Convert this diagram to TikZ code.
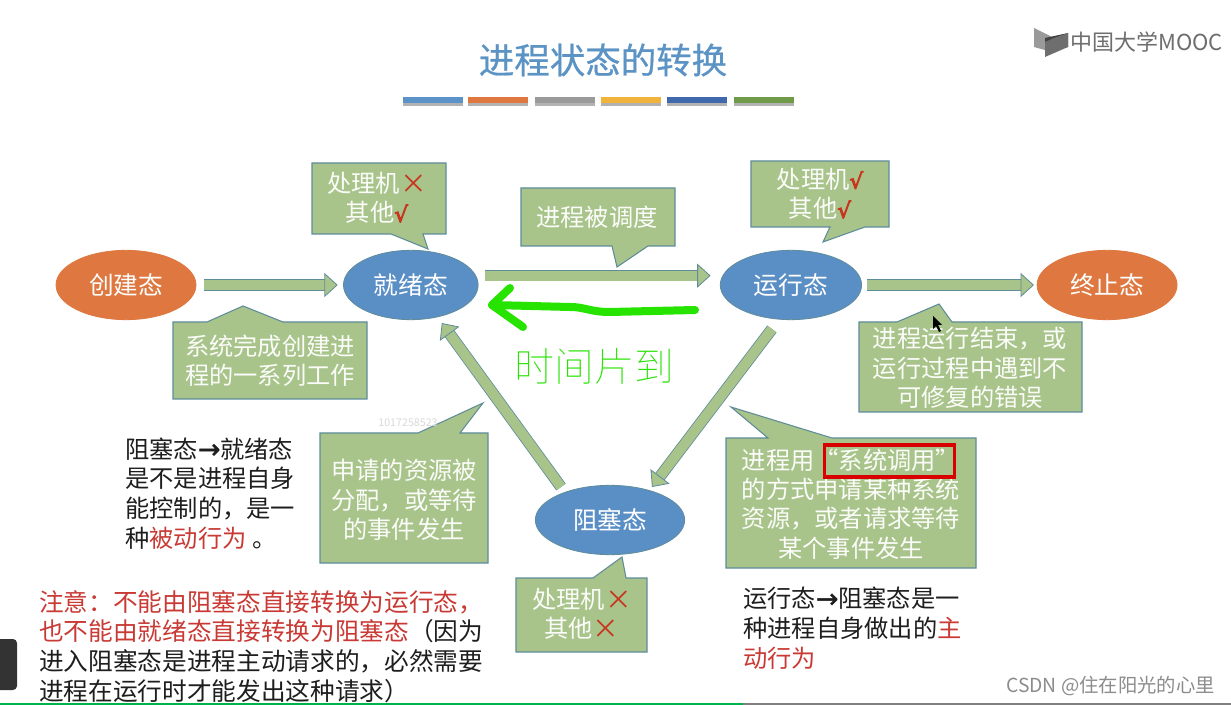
\documentclass[tikz,border=0pt]{standalone}
\usepackage{fontspec}
\usepackage{xcolor}
\setmainfont{Noto Sans CJK SC}
\newfontfamily\arrowfont[FakeBold=1.5]{DejaVu Sans}
\newfontfamily\tickfont[FakeBold=4]{DejaVu Sans}
\newfontfamily\titlefont[FakeBold=0.6]{Noto Sans CJK SC}
\newfontfamily\inkfont{Noto Sans CJK SC Thin}
\usetikzlibrary{shapes.geometric, arrows.meta, positioning}
\definecolor{stateblue}{HTML}{5A8FC6}
\definecolor{stateorange}{HTML}{DE7840}
\definecolor{boxgreen}{HTML}{A8C48A}
\definecolor{edgeblue}{HTML}{5F8C9A}
\definecolor{titleblue}{HTML}{5B93C4}
\definecolor{noteblack}{HTML}{1E1E1E}
\definecolor{notered}{HTML}{C93A35}
\definecolor{markred}{HTML}{C8351F}
\definecolor{inkgreen}{HTML}{26E400}
\definecolor{logogray}{HTML}{6E6E6E}
\newcommand{\crossmark}{\smash{\fontsize{20}{22}\selectfont\textcolor{markred}{\raisebox{-0.5pt}{×}}}}
\newcommand{\tickmark}{\smash{\fontsize{16}{22}\tickfont\textcolor{markred}{√}}}
\newcommand{\notearrow}{\smash{\fontsize{20}{22}\arrowfont →}}
\newcommand{\fwcomma}{\char"FF0C\relax}
\newcommand{\fwcolon}{\char"FF1A\relax}

\begin{document}
\begin{tikzpicture}[
  x=0.75pt, y=-0.75pt,
  state/.style={ellipse, draw=edgeblue, line width=0.6pt, fill=stateblue, minimum width=101pt, minimum height=52pt, inner sep=0pt, text=white, font=\fontsize{18.5}{22}\selectfont},
  endstate/.style={state, draw=stateorange, fill=stateorange, minimum width=105pt},
  callout/.style={draw=edgeblue, line width=0.8pt, fill=boxgreen, line join=miter},
  boxtext/.style={align=center, text=white!95!boxgreen, font=\fontsize{18.2}{22}\selectfont},
  note/.style={align=left, anchor=north west, text=noteblack, font=\fontsize{18.2}{22.2}\selectfont, inner sep=0pt},
  bigarrow/.style={double=boxgreen, double distance=7.5pt, draw=edgeblue, line width=0.6pt, -{Triangle[length=10pt, width=18pt, fill=boxgreen, line width=0.6pt]}},
  bar/.style={minimum width=44.5pt, minimum height=5pt, inner sep=0pt},
]
\fill[white] (0,0) rectangle (1231,705);
\useasboundingbox (0,0) rectangle (1231,705);

% Title
\node[text=titleblue, font=\fontsize{26.6}{30}\titlefont] (title) at (603,60) {进程状态的转换};
\foreach \name/\cx/\col in {a/433/5B93C9, b/498/DE7840, c/565/9A9A9A, d/631/F2B33D, e/697/3F68AD, f/764/6F9A49} {
  \definecolor{barcol}{HTML}{\col}
  \node[bar, fill=black!30] at (\cx,102.5) {};
  \node[bar, fill=barcol] (bar\name) at (\cx,100) {};
}

% Logo
\fill[logogray!70] (1034,28) -- (1052,37) -- (1052,52) -- (1034,47) -- cycle;
\fill[logogray!60!black] (1045,38) -- (1068,33) -- (1068,47) -- (1045,50) -- cycle;
\fill[logogray] (1045,42) -- (1054,38) -- (1068,33) -- (1068,47) -- (1045,57) -- cycle;
\node[text=logogray, font=\fontsize{16.5}{20}\selectfont, anchor=west, inner sep=0pt] (logo) at (1070,42) {中国大学MOOC};

% States
\node[endstate] (create) at (126,285) {创建态};
\node[state, right=110pt of create] (ready) {就绪态};
\node[state, right=181pt of ready, minimum width=106pt] (run) {运行态};
\node[endstate, right=131pt of run] (exit) {终止态};
\node[state, minimum width=112pt] (blocked) at (610,520) {阻塞态};

% Callouts
\draw[callout] (312,163) -- (446,163) -- (446,234) -- (423,234) -- (428,249) -- (391,234) -- (312,234) -- cycle;
\node[boxtext] (tipready) at (377,198) {处理机\crossmark\\其他\tickmark};
\draw[callout] (521,188) -- (675,188) -- (675,246) -- (648,246) -- (617,267) -- (612,246) -- (521,246) -- cycle;
\node[boxtext] (tipsched) at (597,217) {进程被调度};
\draw[callout] (751,161) -- (889,161) -- (889,227) -- (865,227) -- (823,242) -- (830,227) -- (751,227) -- cycle;
\node[boxtext] (tiprun) at (820,194) {处理机\tickmark\\其他\tickmark};
\draw[callout] (859,322) -- (897,322) -- (939,304) -- (952,322) -- (1082,322) -- (1082,412) -- (859,412) -- cycle;
\node[boxtext] (tipexit) at (970,368) {进程运行结束\fwcomma 或\\运行过程中遇到不\\可修复的错误};
\draw[callout] (173,322) -- (207,322) -- (243,306) -- (283,322) -- (367,322) -- (367,399) -- (173,399) -- cycle;
\node[boxtext] (tipcreate) at (270,361) {系统完成创建进\\程的一系列工作};
\draw[callout] (320,433) -- (418,433) -- (483,403) -- (460,433) -- (488,433) -- (488,563) -- (320,563) -- cycle;
\node[boxtext] (tipgrant) at (404,500) {申请的资源被\\分配\fwcomma 或等待\\的事件发生};
\draw[callout] (726,438) -- (768,438) -- (731,407) -- (832,438) -- (976,438) -- (976,568) -- (726,568) -- cycle;
\node[boxtext] (tipcall) at (851,504) {进程用“系统调用”\\的方式申请某种系统\\资源\fwcomma 或者请求等待\\某个事件发生};
\draw[callout] (516,578) -- (593,578) -- (622,557) -- (626,578) -- (647,578) -- (647,652) -- (516,652) -- cycle;
\node[boxtext] (tipblock) at (582,614) {处理机\crossmark\\其他\crossmark};
\node[draw=red!85!black, line width=2.4pt, minimum width=97pt, minimum height=24pt, inner sep=0pt] (callmark) at (889.5,461) {};

% Arrows
\draw[bigarrow, shorten <=6pt, shorten >=4pt] (create) -- (ready);
\draw[bigarrow, shorten <=5pt, shorten >=7pt] ([yshift=7pt]ready.east) -- ([yshift=7pt]run.west);
\draw[bigarrow, shorten <=4pt, shorten >=2pt] (run) -- (exit);
\draw[bigarrow] ([xshift=-36.75pt,yshift=24.75pt]blocked.center) -- ([xshift=23.25pt,yshift=-28.5pt]ready.center);
\draw[bigarrow] ([xshift=-14.25pt,yshift=-33pt]run.center) -- ([xshift=31.5pt,yshift=24.75pt]blocked.center);

% Ink
\coordinate (inkstart) at (695,310);
\coordinate (inkend) at (492,305);
\draw[inkgreen, line width=6pt, line cap=round, line join=round] (inkstart) -- (610,312) .. controls (590,312) and (585,307) .. (570,307) -- (inkend);
\draw[inkgreen, line width=6pt, line cap=round, line join=round] (510,288) -- (inkend) -- (523,327);
\node[text=inkgreen, font=\fontsize{30}{32}\inkfont] (timeup) at (594,366) {时间片到};

% Notes
\node[note] (passive) at (125,437.5) {阻塞态\notearrow 就绪态\\是不是进程自身\\能控制的\fwcomma 是一\\种\textcolor{notered}{被动行为} 。};
\node[note, font=\fontsize{18.5}{22.2}\selectfont] (warn) at (39,590) {\textcolor{notered}{注意\fwcolon 不能由阻塞态直接转换为运行态\fwcomma}\\\textcolor{notered}{也不能由就绪态直接转换为阻塞态}\char"FF08\relax 因为\\进入阻塞态是进程主动请求的\fwcomma 必然需要\\进程在运行时才能发出这种请求\char"FF09\relax};
\node[note] (active) at (743,587) {运行态\notearrow 阻塞态是一\\种进程自身做出的\textcolor{notered}{主}\\\textcolor{notered}{动行为}};

% Screen marks
\node[text=black!15, font=\fontsize{8}{10}\selectfont] (idmark) at (408,423) {1017258523};
\node[text=black!45, font=\fontsize{14.5}{16}\selectfont, anchor=east, inner sep=0pt] (csdn) at (1215,686) {CSDN @住在阳光的心里};
\fill[black] (933,316) -- (933,329) -- (936,326) -- (939,332) -- (941,331) -- (938,325) -- (942,325) -- cycle;
\fill[black!80, rounded corners=3pt] (-6,639) rectangle (17,690);
\fill[teal!60!green] (0,703) rectangle (743,705);
\fill[black!50] (743,703) rectangle (1231,705);
\end{tikzpicture}
\end{document}
